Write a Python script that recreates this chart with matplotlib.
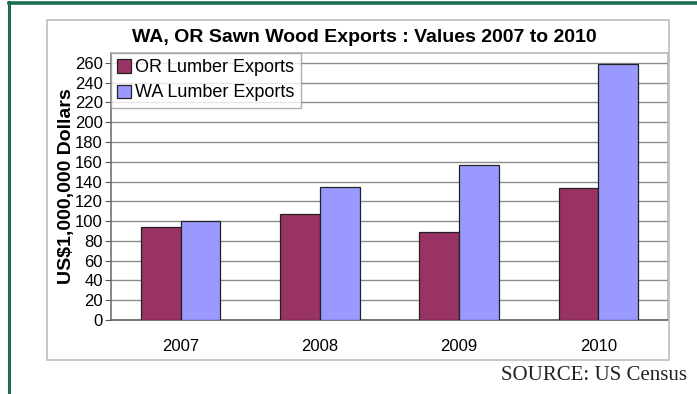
import matplotlib.pyplot as plt
from matplotlib.patches import Rectangle
import numpy as np

years = ["2007", "2008", "2009", "2010"]
or_exports = [94, 107, 89, 133]
wa_exports = [100, 135, 157, 259]
y_ticks = list(range(0, 261, 20))

W, H = 697, 394
fig = plt.figure(figsize=(W / 100, H / 100), dpi=100)


def fx(px):
    return px / W


def fy(px):
    return 1 - px / H


# page frame lines (green)
green = "#1b6e55"
fig.add_artist(plt.Line2D([fx(9), fx(9)], [fy(2), fy(394)], color=green, lw=2.2,
                          transform=fig.transFigure))
fig.add_artist(plt.Line2D([fx(9), fx(697)], [fy(2.5), fy(2.5)], color=green, lw=2.6,
                          transform=fig.transFigure))

# chart outer box
fig.add_artist(Rectangle((fx(46.5), fy(360)), fx(669) - fx(46.5), fy(20) - fy(360),
                         transform=fig.transFigure, fill=False, ec="#bdbdbd", lw=1.2))

fig.text(fx(364), fy(37), "WA, OR Sawn Wood Exports : Values 2007 to 2010",
         ha="center", va="center", fontsize=14, fontweight="bold",
         family="Liberation Sans")

ax = fig.add_axes([fx(111), fy(320), fx(668) - fx(111), fy(53) - fy(320)])

x = np.arange(len(years))
bw = 0.2857
ax.bar(x - bw / 2, or_exports, bw, color="#993366", edgecolor="#222222", lw=0.9,
       label="OR Lumber Exports", zorder=3)
ax.bar(x + bw / 2, wa_exports, bw, color="#9999ff", edgecolor="#222222", lw=0.9,
       label="WA Lumber Exports", zorder=3)

ax.set_xlim(-0.5, 3.5)
ax.set_ylim(0, 270)
ax.set_yticks(y_ticks)
ax.set_xticks(x)
ax.set_xticklabels(years)
ax.yaxis.grid(True, color="#8c8c8c", lw=1.0, zorder=0)
ax.tick_params(axis="y", length=4, color="#555555", labelsize=12, pad=2)
ax.tick_params(axis="x", length=0, labelsize=12, pad=14)
for lab in ax.get_xticklabels() + ax.get_yticklabels():
    lab.set_family("Liberation Sans")

ax.spines["top"].set_color("#b0b0b0")
ax.spines["right"].set_color("#b0b0b0")
ax.spines["left"].set_color("#666666")
ax.spines["bottom"].set_color("#555555")
for s in ax.spines.values():
    s.set_linewidth(1.1)

ax.set_ylabel("US$1,000,000 Dollars", fontsize=14, fontweight="bold",
              family="Liberation Sans", labelpad=0)

leg = ax.legend(loc="upper left", bbox_to_anchor=(0.0, 1.0), frameon=True,
                fancybox=False, edgecolor="#9a9a9a",
                prop={"family": "Liberation Sans", "size": 13},
                handlelength=0.75, handleheight=0.75, handletextpad=0.25,
                borderpad=0.35, labelspacing=0.45, borderaxespad=0)
leg.get_frame().set_linewidth(1.0)
leg.set_zorder(5)

fig.text(fx(687), fy(376), "SOURCE: US Census", ha="right", va="center",
         fontsize=15, family="Liberation Serif", color="#222222")

fig.savefig("out.png", dpi=100)
